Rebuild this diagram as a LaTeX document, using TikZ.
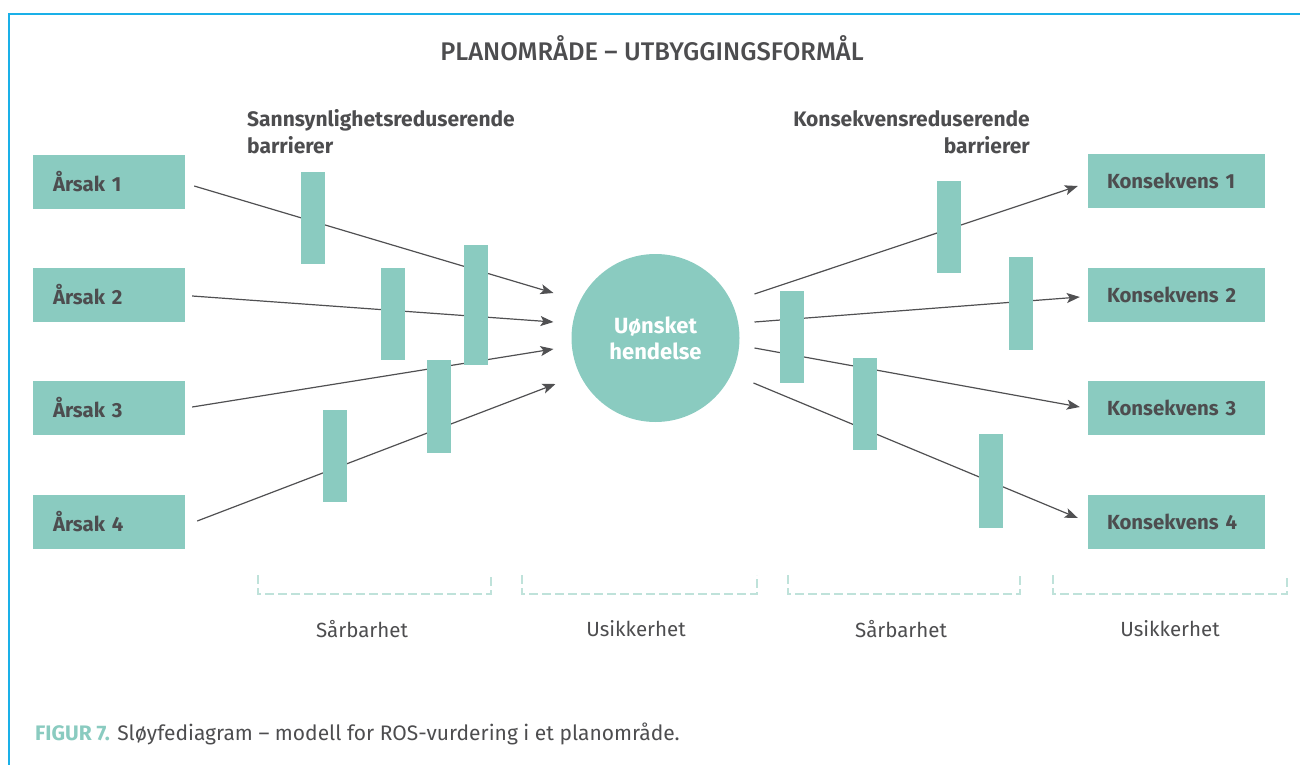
\documentclass[tikz,border=0pt]{standalone}
\usepackage{fontspec}
\setmainfont{Fira Sans}
\newfontfamily\titlefont{Fira Sans Medium}
\usetikzlibrary{arrows.meta,calc,positioning}
\definecolor{rosteal}{HTML}{8ACBC0}
\definecolor{rostext}{HTML}{4D4D4F}
\definecolor{rosframe}{HTML}{1AB0E8}
\definecolor{rosdash}{HTML}{BFE2DA}
\definecolor{rosarrow}{HTML}{505052}

\begin{document}
\begin{tikzpicture}[x=1pt,y=-1pt]
    \tikzstyle{every node}=[text=rostext,inner sep=0pt]
    \tikzstyle{cause}=[fill=rosteal,minimum height=54pt,text width=112pt,
        inner xsep=20pt,align=left,font=\fontsize{20.4}{24}\selectfont\bfseries]
    \tikzstyle{conseq}=[cause,text width=139pt,inner xsep=19pt]
    \tikzstyle{barrier}=[fill=rosteal,minimum width=24pt]
    \tikzstyle{flow}=[draw=rosarrow,line width=1.2pt,
        -{Stealth[length=13pt,width=10pt,inset=3pt]}]
    \tikzstyle{bracket}=[draw=rosdash,line width=1.1pt,dash pattern=on 9pt off 4pt]
    \tikzstyle{zone}=[font=\fontsize{20.5}{24}\selectfont]

    \useasboundingbox (0,0) rectangle (1300,765);

    %% Frame
    \draw[rosframe,line width=2pt] (1300,14) -- (9,14) -- (9,765);

    %% Headings
    \node (title) at (652,48) {\titlefont\fontsize{25.5}{30}\selectfont PLANOMRÅDE – UTBYGGINGSFORMÅL};
    \node[anchor=west,align=left,font=\fontsize{21}{27}\selectfont\bfseries]
        (sannhead) at (247,132) {Sannsynlighetsreduserende\\barrierer};
    \node[anchor=east,align=right,font=\fontsize{21}{27}\selectfont\bfseries]
        (konshead) at (1030,132) {Konsekvensreduserende\\barrierer};

    %% Causes and consequences
    \foreach \i/\y in {1/182,2/295,3/408,4/522} {
        \node[cause] (arsak\i) at (109,\y) {Årsak \i};
    }
    \foreach \i/\y in {1/181,2/295,3/408,4/522} {
        \node[conseq] (kons\i) at (1176.5,\y) {Konsekvens \i};
    }

    %% Top event
    \node[circle,fill=rosteal,minimum size=168pt,align=center,text=white,
          font=\fontsize{22}{26}\selectfont\bfseries] (hendelse) at (655.5,338)
        {Uønsket\\hendelse};

    %% Arrows into and out of the top event
    \draw[flow] ($(arsak1.east)+(9,4)$)  -- ($(hendelse.center)+(-102,-45)$);
    \draw[flow] ($(arsak2.east)+(7,1)$)  -- ($(hendelse.center)+(-102,-16)$);
    \draw[flow] ($(arsak3.east)+(7,-1)$) -- ($(hendelse.center)+(-102,11)$);
    \draw[flow] ($(arsak4.east)+(12,-1)$) -- ($(hendelse.center)+(-100,46)$);

    \draw[flow] ($(hendelse.center)+(99,-44)$) -- ($(kons1.west)+(-10,5)$);
    \draw[flow] ($(hendelse.center)+(99,-16)$) -- ($(kons2.west)+(-8,2)$);
    \draw[flow] ($(hendelse.center)+(99,10)$)  -- ($(kons3.west)+(-8,-1)$);
    \draw[flow] ($(hendelse.center)+(98,45)$)  -- ($(kons4.west)+(-10,-4)$);

    %% Barriers on top of the arrows
    \foreach \x/\y/\h [count=\n] in {313/218/92, 392.5/314/92, 475.5/305/120,
                                    439/406.5/93, 335/456/92} {
        \node[barrier,minimum height=\h pt] (barL\n) at (\x,\y) {};
    }
    \foreach \x/\y/\h [count=\n] in {949/227/92, 1020.5/303.5/93, 792/337/92,
                                    865/404/92, 991/481/94} {
        \node[barrier,minimum height=\h pt] (barR\n) at (\x,\y) {};
    }

    %% Brackets and zone labels
    \foreach \a/\b in {258/491, 522/757, 788/1020, 1053/1287} {
        \draw[bracket] (\a,575) -- (\a,594) -- (\b,594) -- (\b,575);
    }
    \node[zone] (sarb1) at (362,629) {Sårbarhet};
    \node[zone] (usik1) at (636,629) {Usikkerhet};
    \node[zone] (sarb2) at (901,629) {Sårbarhet};
    \node[zone] (usik2) at (1170,629) {Usikkerhet};

    %% Caption
    \node[anchor=west,font=\fontsize{21}{25}\selectfont] (caption) at (35,734)
        {{\color{rosteal}\bfseries FIGUR 7.} Sløyfediagram – modell for ROS-vurdering i et planområde.};
\end{tikzpicture}
\end{document}
